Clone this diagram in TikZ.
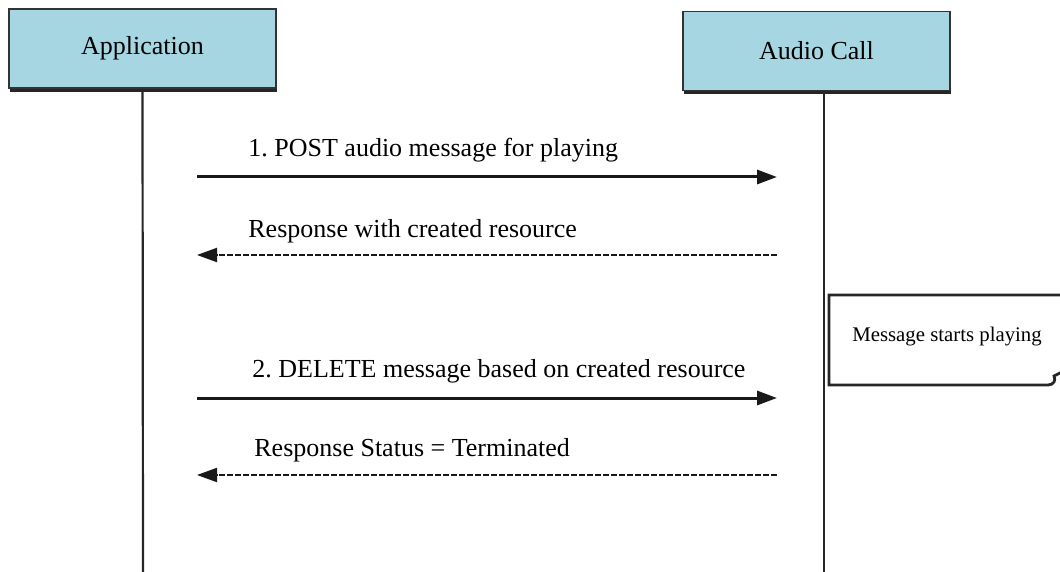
\documentclass[tikz,border=0pt]{standalone}
\usepackage{fontspec}
\setmainfont{Liberation Serif}
\usetikzlibrary{arrows.meta,shadows}

\definecolor{boxblue}{RGB}{165,214,226}

\tikzset{
  actor/.style={draw=black!80, line width=0.8pt, fill=boxblue, minimum width=133.5pt, minimum height=39.5pt,
    drop shadow={shadow xshift=0.6pt, shadow yshift=-1.8pt, fill=black!85, opacity=1},
    font=\fontsize{13}{15}\selectfont},
  lifeline/.style={line width=1.1pt, black!85},
  msg/.style={-{Triangle[length=10pt,width=7pt]}, line width=1.5pt, black!90},
  reply/.style={-{Triangle[length=10pt,width=7pt]}, line width=1pt, black!90, dash pattern=on 3pt off 1pt},
  msglabel/.style={anchor=west, inner sep=0pt, font=\fontsize{13}{15}\selectfont}
}

\begin{document}
\frenchspacing
\begin{tikzpicture}[x=0.5pt, y=-0.5pt]
  \useasboundingbox (0,0) rectangle (1060,572);

  \node[actor] (App) at (142.5,48.5) {Application};
  \node[actor] (Call) at (816.5,51) {Audio Call};

  \coordinate (AppEnd) at (143,572);
  \coordinate (CallTop) at (824,91);
  \coordinate (CallEnd) at (824,572);
  \draw[lifeline] (App.south) -- (AppEnd);
  \draw[lifeline] (CallTop) -- (CallEnd);

  % messages
  \coordinate (a1) at (197,177);  \coordinate (b1) at (777,177);
  \coordinate (a2) at (197,255);  \coordinate (b2) at (777,255);
  \coordinate (a3) at (197,398);  \coordinate (b3) at (777,398);
  \coordinate (a4) at (197,475);  \coordinate (b4) at (777,475);

  \draw[msg] (a1) -- (b1);
  \draw[reply] (b2) -- (a2);
  \draw[msg] (a3) -- (b3);
  \draw[reply] (b4) -- (a4);

  \node[msglabel] (m1) at (248,150) {1. POST audio message for playing};
  \node[msglabel] (m2) at (248,231) {Response with created resource};
  \node[msglabel] (m3) at (252,371) {2. DELETE message based on created resource};
  \node[msglabel] (m4) at (254,450) {Response Status = Terminated};

  % note
  \node[font=\fontsize{10.4}{12}\selectfont] (note) at (947,337) {Message starts playing};
  \draw[line width=1.4pt, black!85] (1062,295) -- (829,295) -- (829,385) -- (1048,385)
    .. controls (1054,385) and (1056,380) .. (1054,376)
    .. controls (1058,374) .. (1062,372);
\end{tikzpicture}
\end{document}
